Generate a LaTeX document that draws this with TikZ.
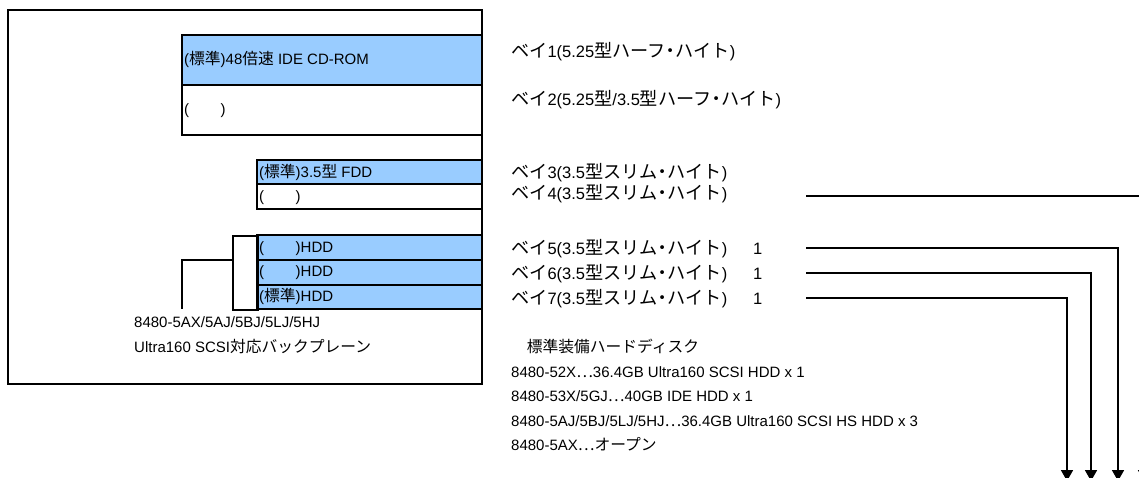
\documentclass[tikz,border=0pt]{standalone}
\usepackage{fontspec}
\setmainfont{Liberation Sans}
\newfontfamily\jpa{Noto Sans CJK JP}[Scale=1.05]
\newfontfamily\jpb{Noto Sans CJK JP}[Scale=1.1]
\usetikzlibrary{arrows.meta}
\newcommand\J[1]{{\jpa #1}}
\newcommand\K[1]{{\jpb #1}}
\newcommand\nak{\makebox[0.55em][c]{・}}
\definecolor{bayblue}{HTML}{99CCFF}
\begin{document}
\begin{tikzpicture}[x=1pt,y=-1pt,
  box/.style={line width=2.1pt},
  conn/.style={line width=1.7pt},
  arr/.style={conn,-{Triangle[length=11pt,width=12pt]}},
  txt/.style={inner sep=0pt,anchor=base west,font=\fontsize{15pt}{18pt}\selectfont},
  baytxt/.style={inner sep=0pt,anchor=base west,font=\fontsize{16.5pt}{19pt}\selectfont}]
\clip (0,0) rectangle (1139,477);
\fill[white] (0,0) rectangle (1139,477);

% blue fills
\fill[bayblue] (182,35) rectangle (482,85);
\fill[bayblue] (257,160) rectangle (482,184);
\fill[bayblue] (257,235) rectangle (482,309);

% outlines
\draw[box] (8,10) rectangle (482,384);
\draw[box] (182,35) rectangle (482,135);
\draw[box] (182,85) -- (482,85);
\draw[box] (257,160) rectangle (482,209);
\draw[box] (257,184) -- (482,184);
\draw[box] (257,235) rectangle (482,309);
\draw[box] (257,260) -- (482,260);
\draw[box] (257,285) -- (482,285);
\node[box,draw,inner sep=0pt,minimum width=25pt,minimum height=74pt,anchor=north west] (bp) at (232,235) {};

% backplane bracket
\coordinate (brk) at (232,260);
\coordinate (brkend) at (182,309);
\draw[box] (brk) -| (brkend);

% texts inside boxes
\node[txt] (cd) at (184,64) {(\J{標準})48\J{倍速} IDE CD-ROM};
\node[txt] (b2t) at (184,114) {(\J{　　})};
\node[txt] (fdd) at (259,177) {(\J{標準})3.5\J{型} FDD};
\node[txt] (b4t) at (259,201.5) {(\J{　　})};
\node[txt] (h5) at (259,252) {(\J{　　})HDD};
\node[txt] (h6) at (259,276.5) {(\J{　　})HDD};
\node[txt] (h7) at (259,301) {(\J{標準})HDD};
\node[txt] (bpl1) at (134,327) {8480-5AX/5AJ/5BJ/5LJ/5HJ};
\node[txt] (bpl2) at (134,352) {Ultra160 SCSI\J{対応バックプレーン}};

% bay labels
\node[baytxt] (bay1) at (511,57) {\K{ベイ}1(5.25\K{型ハーフ\nak{}ハイト})};
\node[baytxt] (bay2) at (511,105.5) {\K{ベイ}2(5.25\K{型}/3.5\K{型ハーフ\nak{}ハイト})};
\node[baytxt] (bay3) at (511,178) {\K{ベイ}3(3.5\K{型スリム\nak{}ハイト})};
\node[baytxt] (bay4) at (511,199.5) {\K{ベイ}4(3.5\K{型スリム\nak{}ハイト})};
\node[baytxt] (bay5) at (511,254) {\makebox[242pt][l]{\K{ベイ}5(3.5\K{型スリム\nak{}ハイト})}1};
\node[baytxt] (bay6) at (511,279) {\makebox[242pt][l]{\K{ベイ}6(3.5\K{型スリム\nak{}ハイト})}1};
\node[baytxt] (bay7) at (511,304) {\makebox[242pt][l]{\K{ベイ}7(3.5\K{型スリム\nak{}ハイト})}1};

% standard disks
\node[txt] (std0) at (511,352) {\J{　標準装備ハードディスク}};
\node[txt] (std1) at (511,377) {8480-52X\J{…}36.4GB Ultra160 SCSI HDD x 1};
\node[txt] (std2) at (511,401.5) {8480-53X/5GJ\J{…}40GB IDE HDD x 1};
\node[txt] (std3) at (511,426) {8480-5AJ/5BJ/5LJ/5HJ\J{…}36.4GB Ultra160 SCSI HS HDD x 3};
\node[txt] (std4) at (511,450.5) {8480-5AX\J{…オープン}};

% connectors
\coordinate (s4) at (806,196);
\coordinate (s5) at (806,248);
\coordinate (s6) at (806,273);
\coordinate (s7) at (806,298);
\coordinate (e4) at (1144,481);
\coordinate (e5) at (1118,481);
\coordinate (e6) at (1091,481);
\coordinate (e7) at (1067,481);
\draw[arr] (s4) -| (e4);
\draw[arr] (s5) -| (e5);
\draw[arr] (s6) -| (e6);
\draw[arr] (s7) -| (e7);
\end{tikzpicture}
\end{document}
